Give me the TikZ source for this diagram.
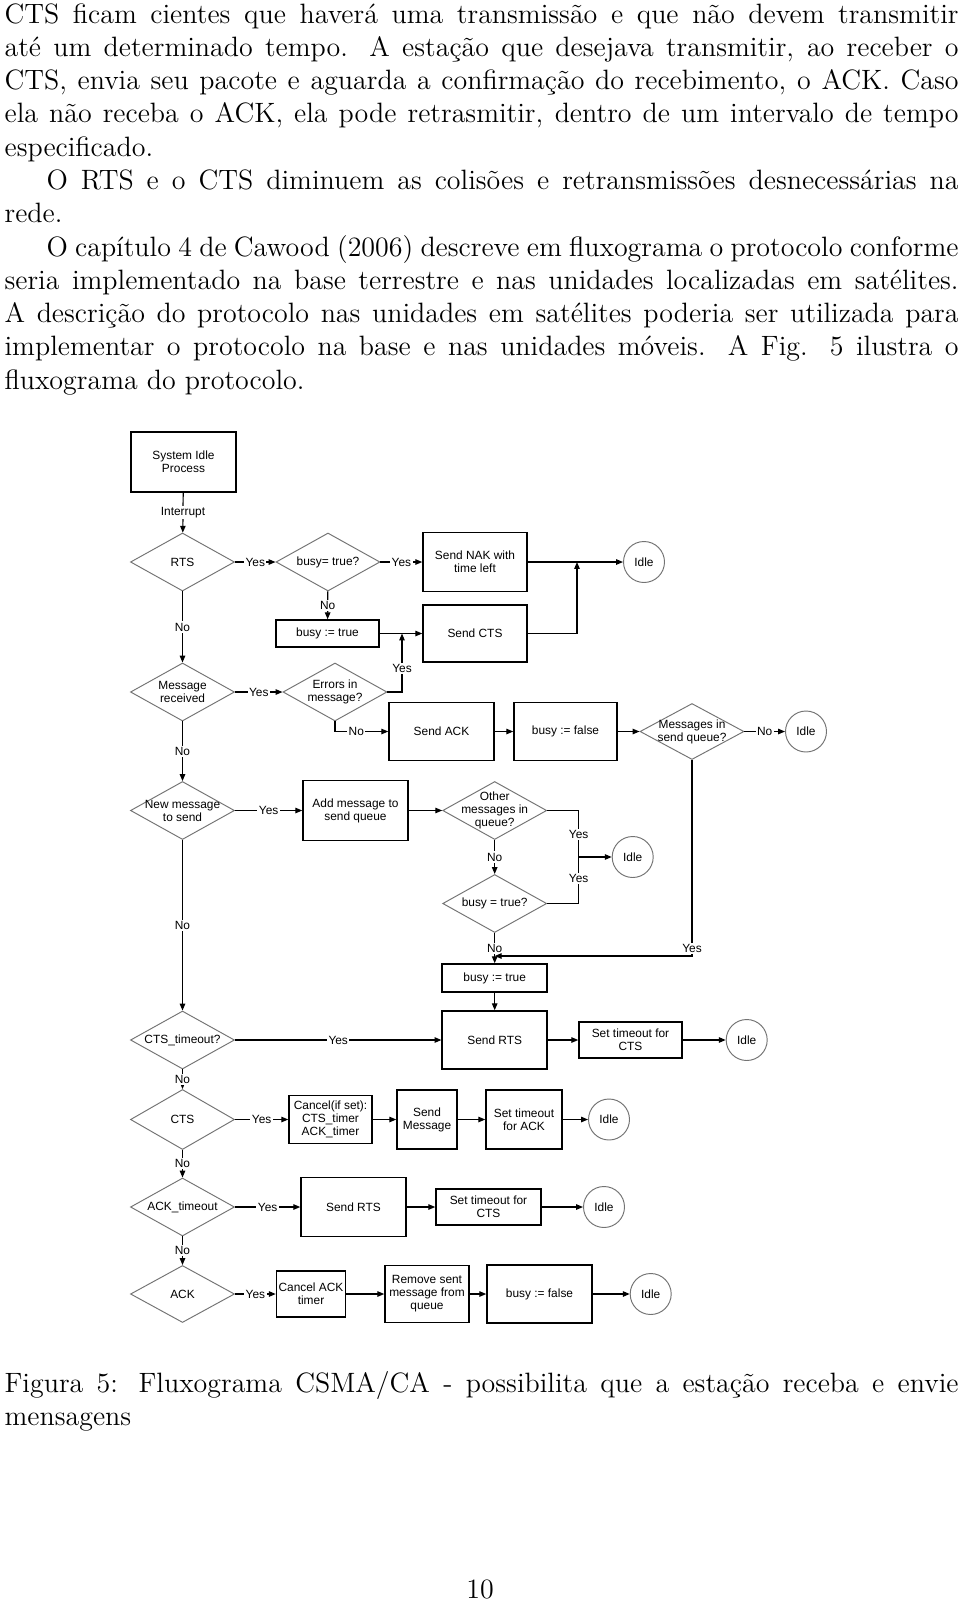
\documentclass[tikz,border=0pt]{standalone}
\usepackage{fontspec}
\usetikzlibrary{shapes.geometric,arrows.meta}
\newfontfamily\chartfont{Liberation Sans}

\tikzset{every picture/.style={line width=0.5pt}}
\tikzset{
  blk/.style 2 args={draw, line width=0.62pt, minimum width=#1*0.42pt, minimum height=#2*0.42pt, inner sep=0pt, align=center},
  dec/.style 2 args={diamond, draw=black!55, line width=0.4pt, minimum width=#1*0.42pt, minimum height=#2*0.42pt, inner sep=0pt},
  idle/.style={circle, draw=black!55, line width=0.4pt, minimum size=41*0.42pt, inner sep=0pt},
  yn/.style={fill=white, inner sep=0.6pt},
  arr/.style={-{Triangle[length=2.9pt,width=2.3pt]}},
  chart/.style={font=\chartfont\fontsize{5}{5.5}\selectfont},
  para/.style={font=\fontsize{11.75}{13.98}\selectfont, inner sep=0pt},
}

\begin{document}
\begin{tikzpicture}[x=0.42pt,y=0.42pt,yscale=-1,xscale=1]
\path[use as bounding box, fill=white] (0,0) rectangle (960,1605);

% Text Node
\node[para, anchor=north west, text width=400.68pt, align=justify] (textabove) at (4,-0.8) {\parindent=1.5em\parskip=0pt\spaceskip=0.3264em plus 0.1632em minus 0.15em\noindent\strut CTS ficam cientes que haverá uma transmissão e que não devem transmitir\linebreak
até um determinado tempo. A estação que desejava transmitir, ao receber o\linebreak
CTS, envia seu pacote e aguarda a confirmação do recebimento, o ACK. Caso\linebreak
ela não receba o ACK, ela pode retrasmitir, dentro de um intervalo de tempo\linebreak
especificado.\par
O RTS e o CTS diminuem as colisões e retransmissões desnecessárias na\linebreak
rede.\par
O capítulo 4 de Cawood (2006) descreve em fluxograma o protocolo conforme\linebreak
seria implementado na base terrestre e nas unidades localizadas em satélites.\linebreak
A descrição do protocolo nas unidades em satélites poderia ser utilizada para\linebreak
implementar o protocolo na base e nas unidades móveis. A Fig. 5 ilustra o\linebreak
fluxograma do protocolo.};

\begin{scope}[chart]
%Shape: Rectangle
\node[blk={105}{60}] (sysidle) at (183.5,462) {System Idle\\Process};
%Shape: Diamond
\node[dec={104}{58}, label={[align=center]center:RTS}] (rts) at (182.5,562) {};
\node[dec={104}{58}, label={[align=center]center:{busy= true?}}] (busyq1) at (328,562) {};
\node[blk={104}{59}] (nak) at (475,562) {Send NAK with\\time left};
\node[idle] (idle1) at (644,562) {Idle};
\node[blk={103}{27}] (busyset1) at (327.5,633.5) {busy := true};
\node[blk={104}{57}] (sendcts) at (475,633.5) {Send CTS};
%Shape: Diamond
\node[dec={104}{58}, label={[align=center]center:{Message\\received}}] (msgrec) at (182.5,692) {};
\node[dec={104}{58}, label={[align=center]center:{Errors in\\message?}}] (errors) at (335,692) {};
\node[blk={105}{58}] (sendack) at (441.5,731.5) {Send ACK};
\node[blk={103}{58}] (busyfree1) at (565.5,731.5) {busy := false};
\node[dec={104}{56}, label={[align=center]center:{Messages in\\send queue?}}] (msgq) at (692,731.5) {};
\node[idle] (idle2) at (806,731.5) {Idle};
%Shape: Diamond
\node[dec={104}{58}, label={[align=center]center:{New message\\to send}}] (newmsg) at (182.5,810.5) {};
\node[blk={105}{60}] (addq) at (355.5,810.5) {Add message to\\send queue};
\node[dec={104}{58}, label={[align=center]center:{Other\\messages in\\queue?}}] (otherq) at (494.7,810.5) {};
\node[idle] (idle3) at (632.7,857) {Idle};
\node[dec={104}{58}, label={[align=center]center:{busy = true?}}] (busyq2) at (494.7,903.5) {};
\node[blk={105}{28}] (busyset2) at (494.7,978) {busy := true};
\node[blk={105}{58}] (sendrts1) at (494.7,1040) {Send RTS};
%Shape: Diamond
\node[dec={104}{58}, label={[align=center]center:{CTS\_timeout?}}] (ctsto) at (182.5,1040) {};
\node[blk={103}{36}] (setcts1) at (630.5,1040) {Set timeout for\\CTS};
\node[idle] (idle4) at (746.7,1040) {Idle};
%Shape: Diamond
\node[dec={104}{60}, label={[align=center]center:CTS}] (cts) at (182.5,1119.5) {};
\node[blk={83}{48}] (cancel) at (330.5,1119.5) {Cancel(if set):\\CTS\_timer\\ACK\_timer};
\node[blk={60}{59}] (sendmsg) at (427,1119.5) {Send\\Message};
\node[blk={76}{59}] (setack) at (524,1119.5) {Set timeout\\for ACK};
\node[idle] (idle5) at (609,1119.5) {Idle};
%Shape: Diamond
\node[dec={104}{58}, label={[align=center]center:{ACK\_timeout}}] (ackto) at (182.5,1207) {};
\node[blk={105}{59}] (sendrts2) at (353.5,1207) {Send RTS};
\node[blk={105}{36}] (setcts2) at (488.5,1207) {Set timeout for\\CTS};
\node[idle] (idle6) at (604,1207) {Idle};
%Shape: Diamond
\node[dec={104}{57}, label={[align=center]center:ACK}] (ack) at (182.5,1294) {};
\node[blk={69}{46}] (cancelack) at (311,1294) {Cancel ACK\\timer};
\node[blk={84}{57}] (remq) at (427,1294) {Remove sent\\message from\\queue};
\node[blk={105}{58}] (busyfree2) at (539.5,1294) {busy := false};
\node[idle] (idle7) at (650.7,1294) {Idle};

\coordinate (j1) at (577,562);
\coordinate (j2) at (402,633.5);
\coordinate (j3) at (578.7,857);
\coordinate (j4) at (494.7,956);

%Straight Lines
\draw[arr] (sysidle) -- node[yn]{Interrupt} (rts);
\draw[arr] (rts) -- node[yn]{Yes} (busyq1);
\draw[arr] (busyq1) -- node[yn]{Yes} (nak);
\draw[arr] (nak) -- (idle1);
\draw[arr] (busyq1) -- node[yn]{No} (busyset1);
\draw[arr] (busyset1) -- (sendcts);
\draw[arr] (sendcts.east) -| (j1);
\draw[arr] (rts) -- node[yn]{No} (msgrec);
\draw[arr] (msgrec) -- node[yn]{Yes} (errors);
\draw[arr] (errors.east) -| node[yn, pos=0.7]{Yes} (j2);
\draw[arr] (errors.south) |- node[yn, pos=0.7]{No} (sendack);
\draw[arr] (sendack) -- (busyfree1);
\draw[arr] (busyfree1) -- (msgq);
\draw[arr] (msgq) -- node[yn]{No} (idle2);
\draw[arr] (msgrec) -- node[yn]{No} (newmsg);
\draw[arr] (newmsg) -- node[yn]{Yes} (addq);
\draw[arr] (addq) -- (otherq);
\draw (otherq.east) -| node[yn, pos=0.755]{Yes} (j3);
\draw (busyq2.east) -| node[yn, pos=0.77]{Yes} (j3);
\draw[arr] (j3) -- (idle3);
\draw[arr] (otherq) -- node[yn]{No} (busyq2);
\draw[arr] (busyq2) -- node[yn]{No} (busyset2);
\draw[arr] (msgq.south) |- node[yn, pos=0.48]{Yes} (j4);
\draw[arr] (busyset2) -- (sendrts1);
\draw[arr] (newmsg) -- node[yn]{No} (ctsto);
\draw[arr] (ctsto) -- node[yn]{Yes} (sendrts1);
\draw[arr] (sendrts1) -- (setcts1);
\draw[arr] (setcts1) -- (idle4);
\draw[arr] (ctsto) -- node[yn]{No} (cts);
\draw[arr] (cts) -- node[yn]{Yes} (cancel);
\draw[arr] (cancel) -- (sendmsg);
\draw[arr] (sendmsg) -- (setack);
\draw[arr] (setack) -- (idle5);
\draw[arr] (cts) -- node[yn]{No} (ackto);
\draw[arr] (ackto) -- node[yn]{Yes} (sendrts2);
\draw[arr] (sendrts2) -- (setcts2);
\draw[arr] (setcts2) -- (idle6);
\draw[arr] (ackto) -- node[yn]{No} (ack);
\draw[arr] (ack) -- node[yn]{Yes} (cancelack);
\draw[arr] (cancelack) -- (remq);
\draw[arr] (remq) -- (busyfree2);
\draw[arr] (busyfree2) -- (idle7);
\end{scope}

% Text Node
\node[para, anchor=north west, text width=400.68pt, align=justify] (caption) at (4,1368.8) {\parindent=0pt\strut Figura 5: Fluxograma CSMA/CA - possibilita que a estação receba e envie\linebreak
mensagens};
% Text Node
\node[para] (pagenum) at (480,1589) {10};

\end{tikzpicture}
\end{document}
